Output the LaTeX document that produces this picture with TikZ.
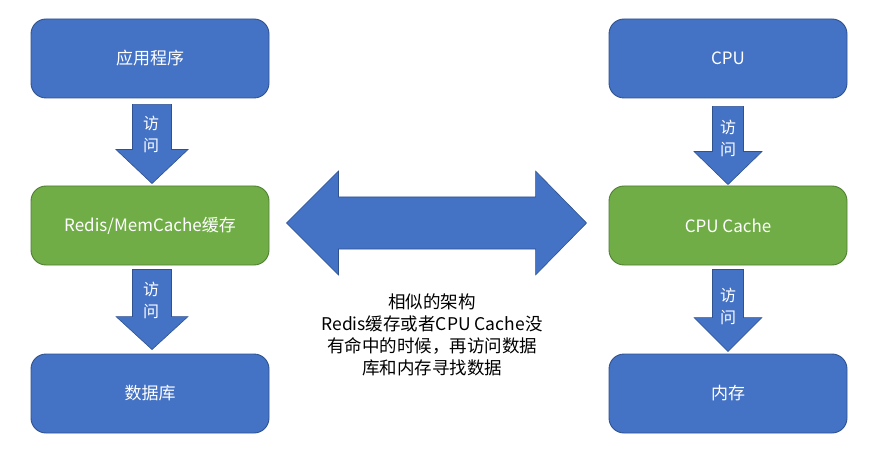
\documentclass[tikz,border=0pt]{standalone}
\usepackage{fontspec}
\setmainfont{Noto Sans CJK SC}
\usetikzlibrary{calc}
\definecolor{boxblue}{HTML}{4472C4}
\definecolor{boxblueline}{HTML}{2F528F}
\definecolor{boxgreen}{HTML}{70AD47}
\definecolor{boxgreenline}{HTML}{507E32}
% #1 start coordinate, #2 tip coordinate, #3 shaft half width, #4 head half width, #5 head length
\newcommand\downblock[5]{%
  \filldraw[blockarrow] ($(#1)+(-#3,0)$) -- ($(#1)+(#3,0)$) -- ($(#2)+(#3,-#5)$) -- ($(#2)+(#4,-#5)$) -- (#2) -- ($(#2)+(-#4,-#5)$) -- ($(#2)+(-#3,-#5)$) -- cycle;}
\tikzset{
  bluebox/.style={draw=boxblueline, fill=boxblue, line width=0.9pt, rounded corners=15pt,
    minimum width=238pt, minimum height=79pt, inner sep=0pt, text=white, font=\fontsize{17}{20}\selectfont},
  greenbox/.style={bluebox, draw=boxgreenline, fill=boxgreen},
  blockarrow/.style={fill=boxblue, draw=boxblueline, line width=0.6pt},
  arrowlabel/.style={text=white, align=center, inner sep=0pt, font=\fontsize{16}{22}\selectfont},
  midtext/.style={text=black, align=center, inner sep=0pt, font=\fontsize{17.5}{22}\selectfont}
}
\begin{document}
\begin{tikzpicture}[x=1pt, y=-1pt]
\useasboundingbox (0,0) rectangle (870,449);
% boxes
\node[bluebox]  (app)   at (150,58.5)  {应用程序};
\node[greenbox] (redis) at (150,225.5) {Redis/MemCache缓存};
\node[bluebox]  (db)    at (150,393.5) {数据库};
\node[bluebox]  (cpu)   at (728,58.5)  {CPU};
\node[greenbox] (cache) at (728,225.5) {CPU Cache};
\node[bluebox]  (mem)   at (728,393.5) {内存};
% down arrows
\coordinate (a1s) at ($(app.south)+(2,6)$);
\coordinate (a1e) at ($(redis.north)+(2,-2)$);
\downblock{a1s}{a1e}{19.5}{36}{34}
\coordinate (a2s) at ($(redis.south)+(2,4)$);
\coordinate (a2e) at ($(db.north)+(2,-4)$);
\downblock{a2s}{a2e}{19.5}{36}{33}
\coordinate (b1s) at ($(cpu.south)+(0,8)$);
\coordinate (b1e) at ($(cache.north)+(0,-1)$);
\downblock{b1s}{b1e}{15.5}{34}{33}
\coordinate (b2s) at ($(cache.south)+(0,4)$);
\coordinate (b2e) at ($(mem.north)+(0,-2)$);
\downblock{b2s}{b2e}{15.5}{34}{34}
% arrow labels
\node[arrowlabel] (l1) at (151,134) {访\\问};
\node[arrowlabel] (l2) at (151,300) {访\\问};
\node[arrowlabel] (l3) at (728,138) {访\\问};
\node[arrowlabel] (l4) at (728,306) {访\\问};
% double arrow
\coordinate (dl) at ($(redis.east)+(17,-2.5)$);
\coordinate (dr) at ($(cache.west)+(-22,-2.5)$);
\filldraw[blockarrow] (dl) -- ($(dl)+(52,-52)$) -- ($(dl)+(52,-26)$) -- ($(dr)+(-51,-26)$) -- ($(dr)+(-51,-52)$) -- (dr)
  -- ($(dr)+(-51,52)$) -- ($(dr)+(-51,26)$) -- ($(dl)+(52,26)$) -- ($(dl)+(52,52)$) -- cycle;
% middle text
\node[midtext] (note) at (432,334.5) {相似的架构\\Redis缓存或者CPU Cache没\\有命中的时候，再访问数据\\库和内存寻找数据};
\end{tikzpicture}
\end{document}
